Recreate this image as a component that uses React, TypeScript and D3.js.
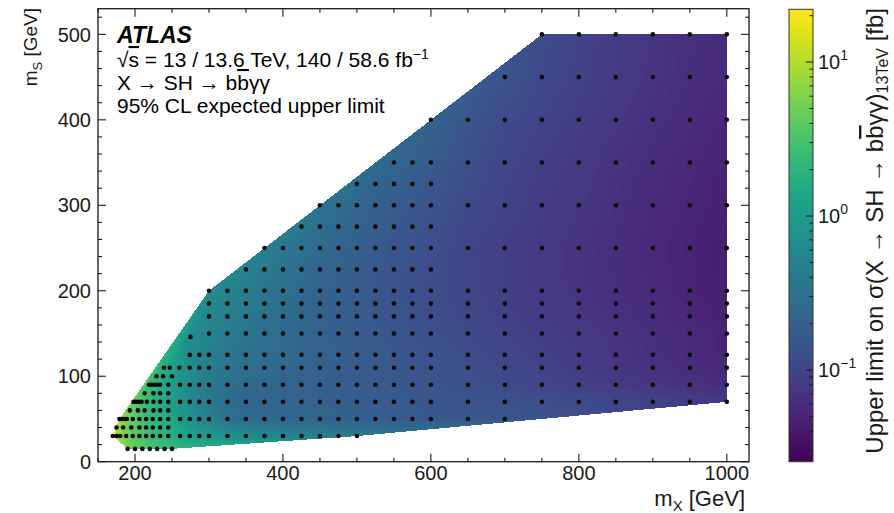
import React, { useMemo } from 'react';
import * as d3 from 'd3';

// [mX in GeV, expected 95% CL upper limit in fb] for every mS row
type Pt = [number, number];

const mS15: Pt[] = [[190, 5.6], [200, 4.5], [210, 3.8], [220, 3.3], [230, 3.0], [240, 2.75], [250, 2.5]];
const mS30: Pt[] = [[170, 12.6], [175, 8.9], [180, 7.1], [188, 5.2], [197, 4.0], [206, 3.3], [215, 2.8], [224, 2.4], [234, 2.1], [245, 1.8], [261, 1.45], [274, 1.25], [287, 1.1], [300, 0.98], [325, 0.8], [350, 0.66], [375, 0.57], [400, 0.52], [425, 0.49], [450, 0.46], [475, 0.43], [500, 0.4]];
const mS40: Pt[] = [[175, 10], [184, 6.6], [195, 4.5], [206, 3.3], [215, 2.7], [224, 2.3], [234, 2.0], [245, 1.75]];
const mS50: Pt[] = [[179, 7.9], [182, 6.9], [186, 6.0], [189, 5.5], [197, 4.2], [206, 3.2], [215, 2.6], [224, 2.2], [234, 1.9], [245, 1.6], [261, 1.05], [274, 0.8], [287, 0.6], [300, 0.48], [325, 0.31], [350, 0.26], [375, 0.245], [400, 0.24], [425, 0.23], [450, 0.22], [475, 0.21], [500, 0.2], [525, 0.19], [550, 0.18], [575, 0.17], [600, 0.16], [650, 0.155], [700, 0.148]];
const mS60: Pt[] = [[193, 5.0], [204, 3.4], [213, 2.6], [225, 2.0], [234, 1.7], [245, 1.35]];
const mS70: Pt[] = [[198, 4.6], [201, 4.2], [205, 3.7], [209, 3.2], [216, 2.6], [225, 2.0], [234, 1.65], [245, 1.25], [261, 0.85], [274, 0.63], [287, 0.48], [300, 0.38], [325, 0.27], [350, 0.23], [375, 0.22], [400, 0.215], [425, 0.21], [450, 0.2], [475, 0.19], [500, 0.18], [525, 0.175], [550, 0.17], [575, 0.16], [600, 0.155], [650, 0.145], [700, 0.135], [750, 0.125], [800, 0.115], [850, 0.103], [900, 0.093], [950, 0.083], [1000, 0.077]];
const mS80: Pt[] = [[213, 2.8], [225, 2.1], [234, 1.7], [245, 1.3]];
const mS90: Pt[] = [[219, 2.6], [222, 2.4], [226, 2.2], [230, 2.0], [234, 1.8], [245, 1.3], [261, 0.82], [274, 0.6], [287, 0.46], [300, 0.38], [325, 0.29], [350, 0.25], [375, 0.23], [400, 0.215], [425, 0.205], [450, 0.195], [475, 0.185], [500, 0.175], [525, 0.168], [550, 0.16], [575, 0.152], [600, 0.145], [650, 0.13], [700, 0.116], [750, 0.104], [800, 0.092], [850, 0.082], [900, 0.074], [950, 0.067], [1000, 0.062]];
const mS100: Pt[] = [[229, 2.1], [238, 1.7], [250, 1.2]];
const mS110: Pt[] = [[239, 1.7], [247, 1.35], [260, 0.92], [274, 0.67], [287, 0.53], [300, 0.44], [325, 0.34], [350, 0.29], [375, 0.26], [400, 0.24], [425, 0.22], [450, 0.205], [475, 0.192], [500, 0.18], [525, 0.17], [550, 0.16], [575, 0.15], [600, 0.142], [650, 0.124], [700, 0.108], [750, 0.095], [800, 0.083], [850, 0.073], [900, 0.066], [950, 0.059], [1000, 0.053]];
const mS125: Pt[] = [[274, 0.64], [287, 0.55], [300, 0.47], [325, 0.38], [350, 0.32], [375, 0.285], [400, 0.26], [425, 0.235], [450, 0.215], [475, 0.2], [500, 0.185], [525, 0.172], [550, 0.16], [575, 0.15], [600, 0.14], [650, 0.121], [700, 0.105], [750, 0.092], [800, 0.081], [850, 0.071], [900, 0.064], [950, 0.057], [1000, 0.051]];
const mS146: Pt[] = [[275, 0.62]];
const mS150: Pt[] = [[300, 0.52], [325, 0.41], [350, 0.34], [375, 0.295], [400, 0.26], [425, 0.23], [450, 0.21], [475, 0.19], [500, 0.175], [525, 0.16], [550, 0.148], [575, 0.137], [600, 0.128], [650, 0.112], [700, 0.097], [750, 0.086], [800, 0.077], [850, 0.07], [900, 0.063], [950, 0.056], [1000, 0.051]];
const mS170: Pt[] = [[300, 0.58], [325, 0.46], [350, 0.38], [375, 0.31], [400, 0.27], [425, 0.235], [450, 0.21], [475, 0.19], [500, 0.172], [525, 0.158], [550, 0.146], [575, 0.135], [600, 0.125], [650, 0.107], [700, 0.093], [750, 0.082], [800, 0.073], [850, 0.066], [900, 0.059], [950, 0.053], [1000, 0.047]];
const mS185: Pt[] = [[300, 0.62], [325, 0.49], [350, 0.4], [375, 0.33], [400, 0.28], [425, 0.24], [450, 0.213], [475, 0.19], [500, 0.172], [525, 0.158], [550, 0.144], [575, 0.132], [600, 0.122], [650, 0.104], [700, 0.091], [750, 0.08], [800, 0.072], [850, 0.064], [900, 0.058], [950, 0.052], [1000, 0.046]];
const mS200: Pt[] = [[300, 0.66], [325, 0.51], [350, 0.42], [375, 0.35], [400, 0.29], [425, 0.25], [450, 0.215], [475, 0.192], [500, 0.172], [525, 0.158], [550, 0.143], [575, 0.13], [600, 0.12], [650, 0.102], [700, 0.089], [750, 0.079], [800, 0.07], [850, 0.062], [900, 0.056], [950, 0.05], [1000, 0.045]];
const mS225: Pt[] = [[350, 0.52], [375, 0.41], [400, 0.33], [425, 0.27], [450, 0.23], [475, 0.2], [500, 0.18], [525, 0.162], [550, 0.146], [575, 0.133], [600, 0.122]];
const mS250: Pt[] = [[375, 0.46], [400, 0.37], [425, 0.3], [450, 0.25], [475, 0.215], [500, 0.19], [525, 0.17], [550, 0.152], [575, 0.138], [600, 0.126], [650, 0.1], [700, 0.087], [750, 0.077], [800, 0.069], [850, 0.061], [900, 0.055], [950, 0.049], [1000, 0.044]];
const mS275: Pt[] = [[425, 0.37], [450, 0.29], [475, 0.245], [500, 0.21], [525, 0.185], [550, 0.162], [575, 0.146], [600, 0.132]];
const mS300: Pt[] = [[450, 0.33], [475, 0.28], [500, 0.235], [525, 0.2], [550, 0.177], [575, 0.156], [600, 0.142], [650, 0.113], [700, 0.096], [750, 0.083], [800, 0.074], [850, 0.065], [900, 0.057], [950, 0.052], [1000, 0.046]];
const mS325: Pt[] = [[500, 0.27], [525, 0.225], [550, 0.195], [575, 0.173], [600, 0.155]];
const mS350: Pt[] = [[550, 0.235], [575, 0.197], [600, 0.172], [650, 0.127], [700, 0.103], [750, 0.088], [800, 0.078], [850, 0.068], [900, 0.06], [950, 0.054], [1000, 0.048]];
const mS400: Pt[] = [[600, 0.21], [650, 0.148], [700, 0.115], [750, 0.097], [800, 0.084], [850, 0.074], [900, 0.065], [950, 0.058], [1000, 0.052]];
const mS450: Pt[] = [[700, 0.14], [750, 0.11], [800, 0.093], [850, 0.08], [900, 0.07], [950, 0.062], [1000, 0.056]];
const mS500: Pt[] = [[750, 0.118], [800, 0.097], [850, 0.083], [900, 0.072], [950, 0.063], [1000, 0.056]];

const massRows: [number, Pt[]][] = [
  [15, mS15], [30, mS30], [40, mS40], [50, mS50], [60, mS60], [70, mS70], [80, mS80],
  [90, mS90], [100, mS100], [110, mS110], [125, mS125], [146, mS146], [150, mS150],
  [170, mS170], [185, mS185], [200, mS200], [225, mS225], [250, mS250], [275, mS275],
  [300, mS300], [325, mS325], [350, mS350], [400, mS400], [450, mS450], [500, mS500],
];

const xMajorTicks = [200, 400, 600, 800, 1000];
const yMajorTicks = [0, 100, 200, 300, 400, 500];
const zMajorTicks: [number, string][] = [[0.1, '\u22121'], [1, '0'], [10, '1']];

const W = 894;
const H = 513;
const FONT = "'Liberation Sans', Arial, Helvetica, sans-serif";

const frame = { l: 98, r: 749, t: 8.7, b: 461.7 };
const bar = { l: 789, r: 813, t: 9.3, b: 461.7 };

const x = d3.scaleLinear().domain([150, 1030]).range([frame.l, frame.r]);
const y = d3.scaleLinear().domain([0, 530]).range([frame.b, frame.t]);
const z = d3.scaleLog().domain([0.0254, 22]).range([bar.b, bar.t]);
const zFrac = d3.scaleLog().domain(z.domain()).range([0, 1]).clamp(true);

interface Node { px: number; py: number; t: number; }

const nodes: Node[] = massRows.flatMap(([ms, pts]) =>
  pts.map(([mx, lim]) => ({ px: x(mx), py: y(ms), t: zFrac(lim) }))
);

// Linear interpolation (in log limit) over the Delaunay triangulation of the mass points
function rasterField(pts: Node[]): string {
  const canvas = document.createElement('canvas');
  canvas.width = W;
  canvas.height = H;
  const ctx = canvas.getContext('2d');
  if (!ctx) return '';
  const img = ctx.createImageData(W, H);
  const data = img.data;
  const lut = d3.range(256).map((i) => d3.rgb(d3.interpolateViridis(i / 255)));
  const del = d3.Delaunay.from(pts, (p) => p.px, (p) => p.py);
  const T = del.triangles;
  for (let i = 0; i < T.length; i += 3) {
    const a = pts[T[i]], b = pts[T[i + 1]], c = pts[T[i + 2]];
    const det = (b.py - c.py) * (a.px - c.px) + (c.px - b.px) * (a.py - c.py);
    if (Math.abs(det) < 1e-6) continue;
    const x0 = Math.max(0, Math.floor(Math.min(a.px, b.px, c.px)));
    const x1 = Math.min(W - 1, Math.ceil(Math.max(a.px, b.px, c.px)));
    const y0 = Math.max(0, Math.floor(Math.min(a.py, b.py, c.py)));
    const y1 = Math.min(H - 1, Math.ceil(Math.max(a.py, b.py, c.py)));
    for (let py = y0; py <= y1; py++) {
      for (let px = x0; px <= x1; px++) {
        const sx = px + 0.5, sy = py + 0.5;
        const w1 = ((b.py - c.py) * (sx - c.px) + (c.px - b.px) * (sy - c.py)) / det;
        const w2 = ((c.py - a.py) * (sx - c.px) + (a.px - c.px) * (sy - c.py)) / det;
        const w3 = 1 - w1 - w2;
        if (w1 < -1e-6 || w2 < -1e-6 || w3 < -1e-6) continue;
        const t = w1 * a.t + w2 * b.t + w3 * c.t;
        const k = Math.max(0, Math.min(255, Math.round(t * 255)));
        const o = (py * W + px) * 4;
        const col = lut[k];
        data[o] = col.r; data[o + 1] = col.g; data[o + 2] = col.b; data[o + 3] = 255;
      }
    }
  }
  ctx.putImageData(img, 0, 0);
  return canvas.toDataURL();
}

export default function App() {
  const fieldUrl = useMemo(() => rasterField(nodes), []);

  const xMinor = d3.range(150, 1001, 50).filter((v) => !xMajorTicks.includes(v));
  const yMinor = d3.range(0, 530, 20).filter((v) => !yMajorTicks.includes(v));
  const zMinor: number[] = [];
  [0.01, 0.1, 1, 10].forEach((dec) => {
    for (let k = 2; k <= 9; k++) {
      const v = dec * k;
      if (v >= z.domain()[0] && v <= z.domain()[1]) zMinor.push(v);
    }
  });
  const gradStops = d3.range(0, 1.0001, 0.05);
  const ink = '#1a1a1a';

  return (
    <svg width={W} height={H} viewBox={`0 0 ${W} ${H}`}
      style={{ position: 'absolute', left: 0, top: 0, background: '#fff' }}
      fontFamily={FONT}>
      <defs>
        <linearGradient id="viridisBar" x1="0" y1="1" x2="0" y2="0">
          {gradStops.map((t) => (
            <stop key={t} offset={t} stopColor={d3.interpolateViridis(t)} />
          ))}
        </linearGradient>
      </defs>
      <rect width={W} height={H} fill="#fff" />

      {/* interpolated limit surface */}
      {fieldUrl && <image href={fieldUrl} x={0} y={0} width={W} height={H} />}

      {/* simulated mass points */}
      <g fill="#0a0a0a">
        {massRows.flatMap(([ms, pts]) =>
          pts.map(([mx]) => <circle key={`${ms}-${mx}`} cx={x(mx)} cy={y(ms)} r={2.3} />)
        )}
      </g>

      {/* frame and ticks */}
      <g stroke={ink} strokeWidth={1.1}>
        <rect x={frame.l} y={frame.t} width={frame.r - frame.l} height={frame.b - frame.t} fill="none" strokeWidth={1.3} />
        {xMajorTicks.map((v) => (
          <g key={`xM${v}`}>
            <line x1={x(v)} x2={x(v)} y1={frame.b} y2={frame.b - 8} />
            <line x1={x(v)} x2={x(v)} y1={frame.t} y2={frame.t + 8} />
          </g>
        ))}
        {xMinor.map((v) => (
          <g key={`xm${v}`}>
            <line x1={x(v)} x2={x(v)} y1={frame.b} y2={frame.b - 4} />
            <line x1={x(v)} x2={x(v)} y1={frame.t} y2={frame.t + 4} />
          </g>
        ))}
        {yMajorTicks.map((v) => (
          <g key={`yM${v}`}>
            <line x1={frame.l} x2={frame.l + 8} y1={y(v)} y2={y(v)} />
            <line x1={frame.r} x2={frame.r - 8} y1={y(v)} y2={y(v)} />
          </g>
        ))}
        {yMinor.map((v) => (
          <g key={`ym${v}`}>
            <line x1={frame.l} x2={frame.l + 4} y1={y(v)} y2={y(v)} />
            <line x1={frame.r} x2={frame.r - 4} y1={y(v)} y2={y(v)} />
          </g>
        ))}
      </g>

      {/* tick labels */}
      <g fontSize={20} fill={ink}>
        {xMajorTicks.map((v) => (
          <text key={`xl${v}`} x={x(v)} y={480} textAnchor="middle">{v}</text>
        ))}
        {yMajorTicks.map((v) => (
          <text key={`yl${v}`} x={frame.l - 7} y={y(v)} dy="0.36em" textAnchor="end">{v}</text>
        ))}
      </g>

      {/* axis titles */}
      <text x={745} y={506} textAnchor="end" fontSize={22} fill={ink}>
        m<tspan fontSize={15} dy={5}>X</tspan><tspan dy={-5}> [GeV]</tspan>
      </text>
      <text transform="translate(37,8) rotate(-90)" textAnchor="end" fontSize={19} fill={ink}>
        m<tspan fontSize={13} dy={5}>S</tspan><tspan dy={-5}> [GeV]</tspan>
      </text>

      {/* labels */}
      <g fill="#000">
        <text x={117} y={43} fontSize={23} fontWeight="bold" fontStyle="italic">ATLAS</text>
        <text x={117} y={67} fontSize={21}>
          {'\u221A'}<tspan style={{ textDecoration: 'overline' }}>s</tspan>
          {' = 13 / 13.6 TeV, 140 / 58.6 fb'}
          <tspan fontSize={14} dy={-8}>{'\u22121'}</tspan>
        </text>
        <text x={117} y={90} fontSize={21}>
          {'X \u2192 SH \u2192 b'}<tspan style={{ textDecoration: 'overline' }}>b</tspan>{'\u03B3\u03B3'}
        </text>
        <text x={117} y={113} fontSize={21}>95% CL expected upper limit</text>
      </g>

      {/* colour scale */}
      <rect x={bar.l} y={bar.t} width={bar.r - bar.l} height={bar.b - bar.t} fill="url(#viridisBar)" stroke="#333" strokeWidth={1} />
      <g stroke={ink} strokeWidth={1}>
        {zMajorTicks.map(([v]) => (
          <line key={`zM${v}`} x1={bar.r} x2={bar.r - 7} y1={z(v)} y2={z(v)} />
        ))}
        {zMinor.map((v) => (
          <line key={`zm${v}`} x1={bar.r} x2={bar.r - 3.5} y1={z(v)} y2={z(v)} />
        ))}
      </g>
      <g fontSize={20} fill={ink}>
        {zMajorTicks.map(([v, e]) => (
          <text key={`zl${v}`} x={818} y={z(v)} dy="0.36em">
            10<tspan fontSize={14} dy={-9}>{e}</tspan>
          </text>
        ))}
      </g>
      <text transform="translate(883,8) rotate(-90)" textAnchor="end" fontSize={24} fill={ink}>
        {'Upper limit on \u03C3(X \u2192 SH \u2192 b'}<tspan style={{ textDecoration: 'overline' }}>b</tspan>{'\u03B3\u03B3)'}
        <tspan fontSize={16} dy={5}>13TeV</tspan><tspan dy={-5}> [fb]</tspan>
      </text>
    </svg>
  );
}
